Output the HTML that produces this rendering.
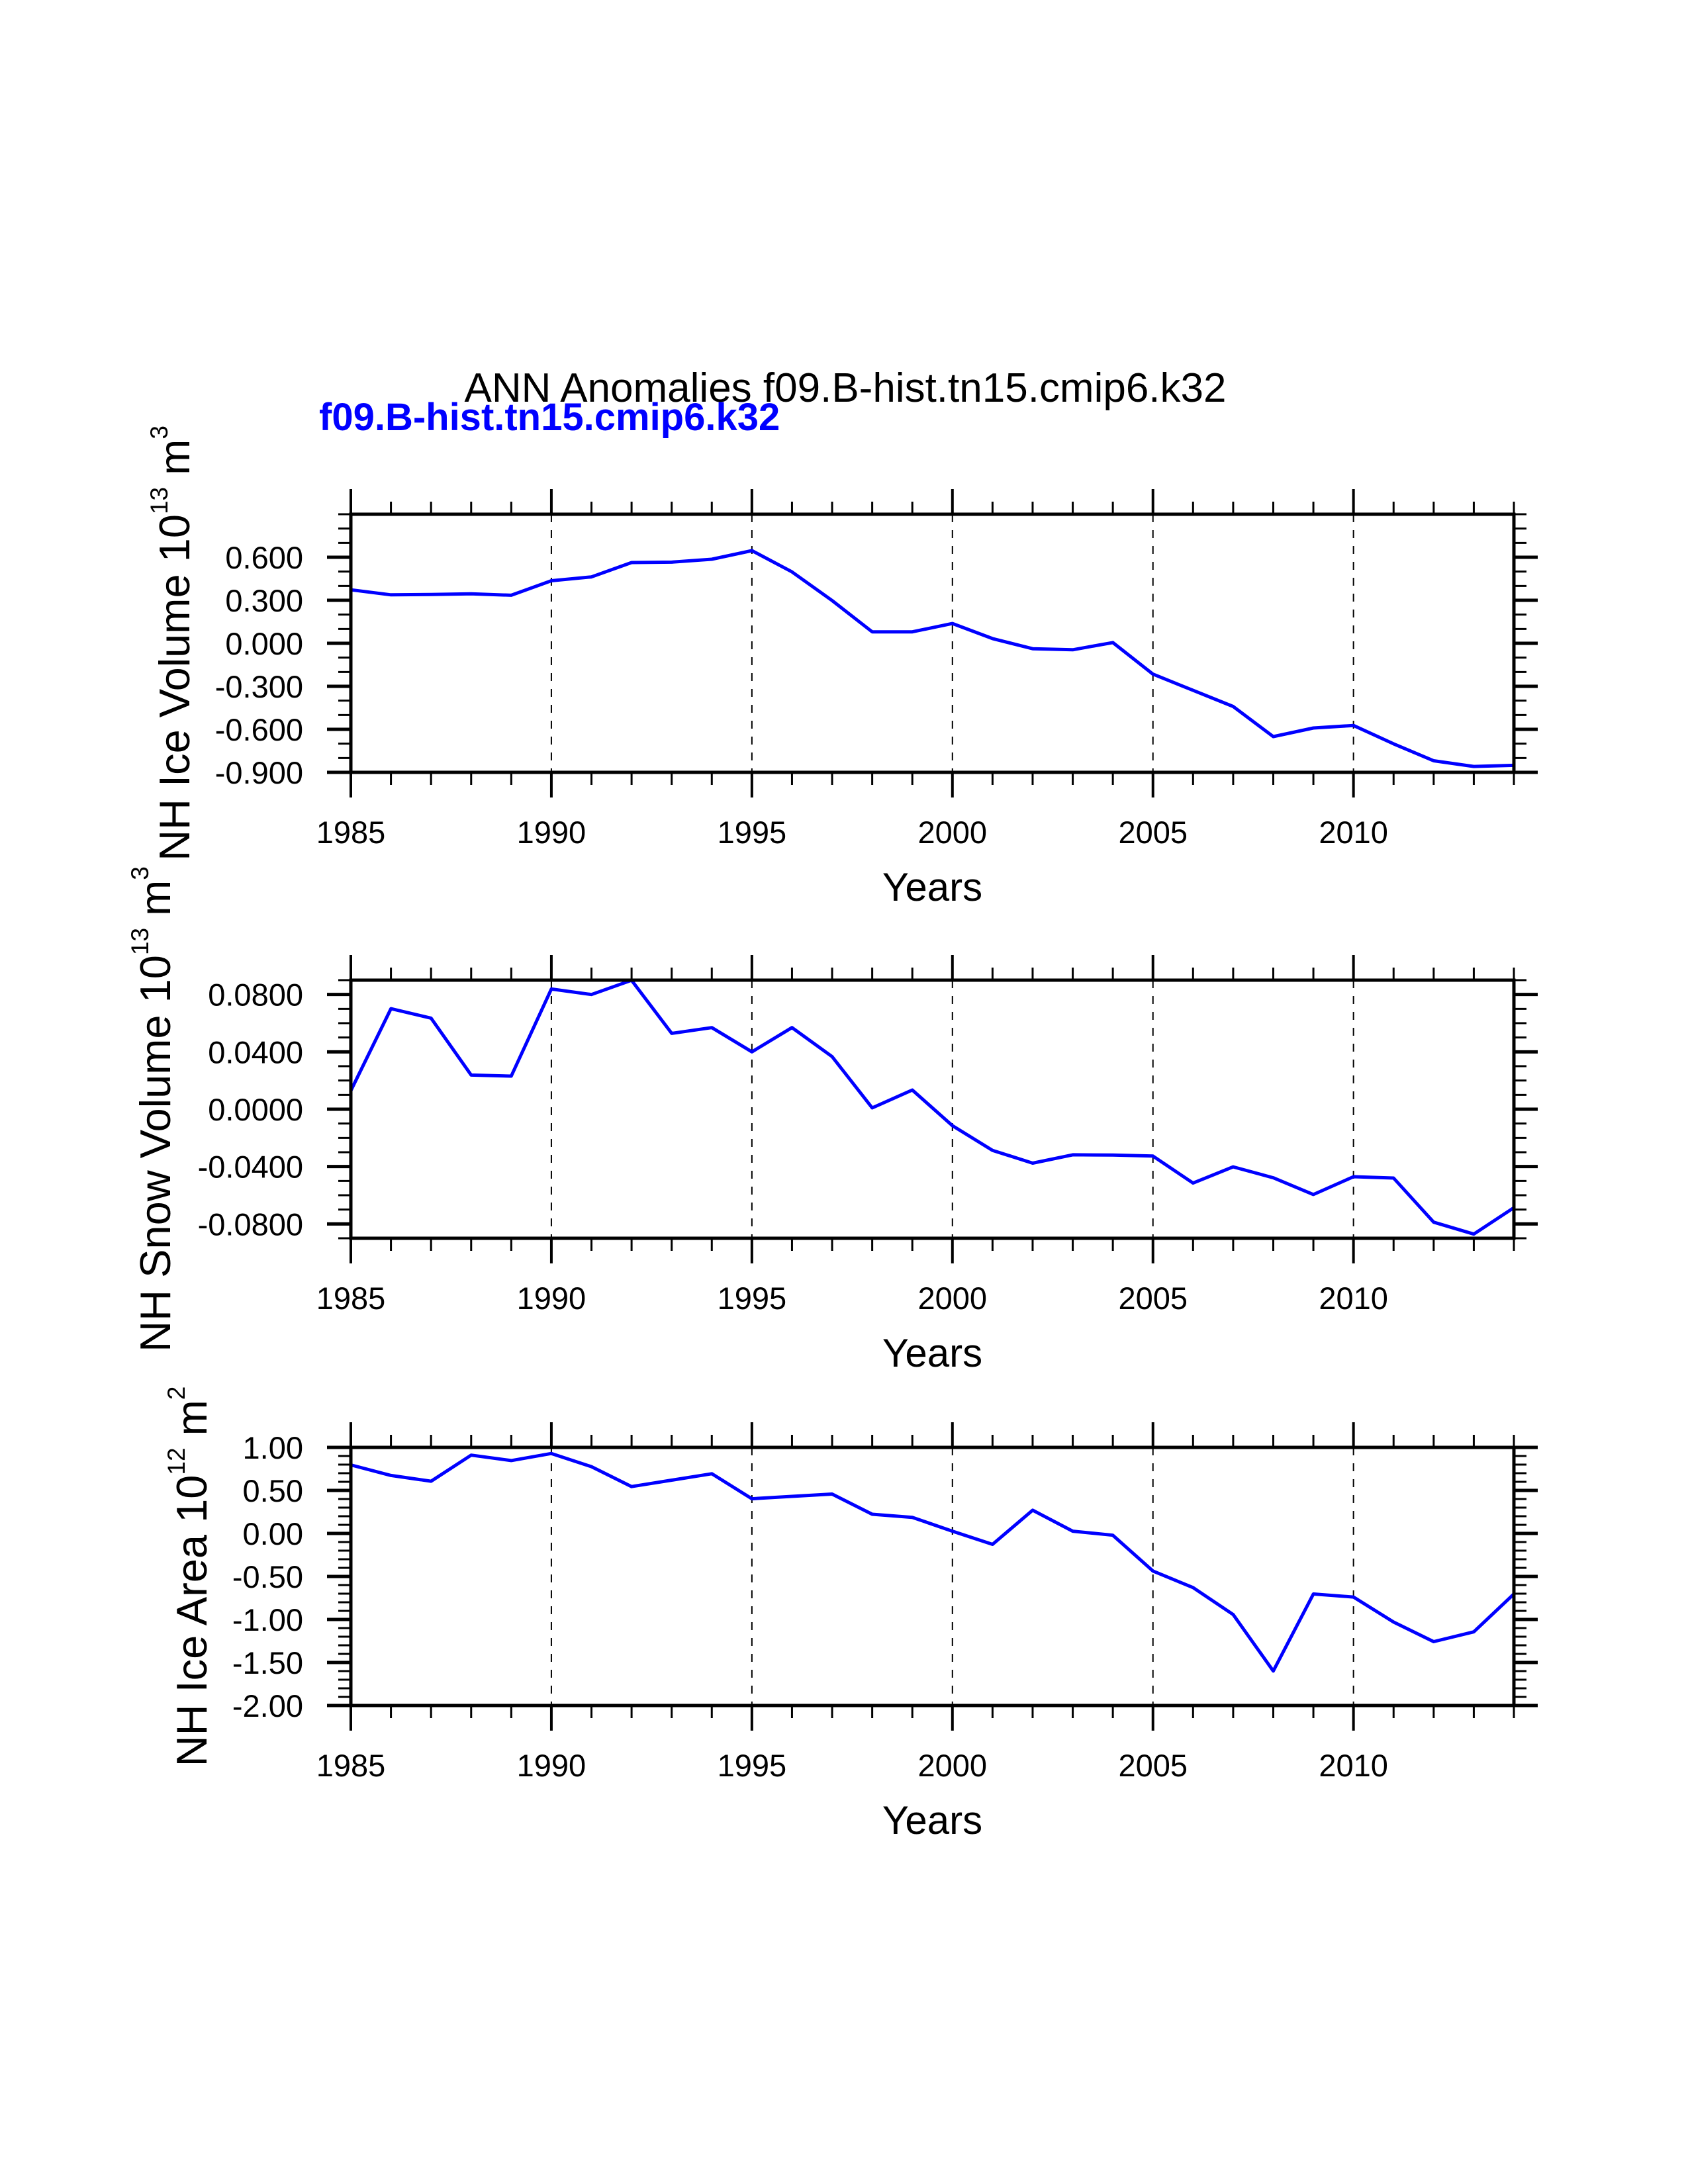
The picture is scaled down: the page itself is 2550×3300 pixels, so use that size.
<!DOCTYPE html>
<html><head><meta charset="utf-8"><title>ANN Anomalies</title>
<style>html,body{margin:0;padding:0;background:#fff}svg{display:block}text{font-family:"Liberation Sans",Arial,sans-serif}</style>
</head><body>
<svg id="fig" xmlns="http://www.w3.org/2000/svg" width="2550" height="3300" viewBox="0 0 2550 3300">
<rect width="2550" height="3300" fill="#fff"/>
<text x="1277" y="607" font-size="62" text-anchor="middle" fill="#000">ANN Anomalies f09.B-hist.tn15.cmip6.k32</text>
<text x="482" y="650" font-size="58" font-weight="bold" fill="#0000ff">f09.B-hist.tn15.cmip6.k32</text>
</svg>
<script>
const years = [1985,1986,1987,1988,1989,1990,1991,1992,1993,1994,1995,1996,1997,1998,1999,2000,2001,2002,2003,2004,2005,2006,2007,2008,2009,2010,2011,2012,2013,2014];
const iceVolume = [0.373,0.338,0.340,0.345,0.335,0.436,0.463,0.563,0.566,0.586,0.646,0.498,0.298,0.080,0.080,0.138,0.033,-0.038,-0.045,0.005,-0.215,-0.328,-0.441,-0.651,-0.591,-0.573,-0.701,-0.819,-0.859,-0.851];
const snowVolume = [0.0129,0.0701,0.0635,0.0238,0.0231,0.0838,0.0800,0.0899,0.0529,0.0569,0.0400,0.0569,0.0367,0.0009,0.0134,-0.0115,-0.0287,-0.0376,-0.0318,-0.0320,-0.0327,-0.0515,-0.0402,-0.0478,-0.0595,-0.0471,-0.0480,-0.0788,-0.0871,-0.0687];
const iceArea = [0.796,0.674,0.607,0.910,0.847,0.929,0.776,0.545,0.619,0.694,0.403,0.431,0.458,0.223,0.187,0.026,-0.127,0.270,0.026,-0.021,-0.437,-0.629,-0.943,-1.599,-0.704,-0.739,-1.030,-1.258,-1.144,-0.704];
const xTickYears = [1985,1990,1995,2000,2005,2010];
const iceVolTicks = [-0.9,-0.6,-0.3,0,0.3,0.6];
const iceVolTickLabels = ["-0.900","-0.600","-0.300","0.000","0.300","0.600"];
const snowTicks = [-0.08,-0.04,0,0.04,0.08];
const snowTickLabels = ["-0.0800","-0.0400","0.0000","0.0400","0.0800"];
const areaTicks = [-2,-1.5,-1,-0.5,0,0.5,1];
const areaTickLabels = ["-2.00","-1.50","-1.00","-0.50","0.00","0.50","1.00"];

const NS="http://www.w3.org/2000/svg";
const svg=document.getElementById('fig');
function mk(tag,attrs,parent){const e=document.createElementNS(NS,tag);for(const k in attrs)e.setAttribute(k,attrs[k]);(parent||svg).appendChild(e);return e;}

const X0=530,X1=2287,XMIN=1985,XMAX=2014;
function xs(v){return X0+(v-XMIN)/(XMAX-XMIN)*(X1-X0);}

function panel(cfg){
  const g=mk('g',{});
  
  
  const T=cfg.top,B=cfg.top+390;
  const ys=v=>B-(v-cfg.min)/(cfg.max-cfg.min)*(B-T);
  for(const yr of [1990,1995,2000,2005,2010]){
    const l=mk('line',{x1:xs(yr),x2:xs(yr),y1:T,y2:B,stroke:'#000','stroke-width':2,'stroke-dasharray':'12,12'},g);
    
    
  }
  for(let yr=XMIN;yr<=XMAX;yr++){
    const major=(yr-XMIN)%5===0;const len=major?38:19;const w=major?4:3;
    mk('line',{x1:xs(yr),x2:xs(yr),y1:T-len,y2:T,stroke:'#000','stroke-width':w},g);
    mk('line',{x1:xs(yr),x2:xs(yr),y1:B,y2:B+len,stroke:'#000','stroke-width':w},g);
  }
  const nMin=Math.round((cfg.max-cfg.min)/cfg.minor);
  for(let i=0;i<=nMin;i++){
    const v=cfg.min+i*cfg.minor;const y=ys(v);
    mk('line',{x1:X0-19,x2:X0,y1:y,y2:y,stroke:'#000','stroke-width':3},g);
    mk('line',{x1:X1,x2:X1+19,y1:y,y2:y,stroke:'#000','stroke-width':3},g);
  }
  cfg.ticks.forEach((v,i)=>{
    const y=ys(v);
    mk('line',{x1:X0-36,x2:X0,y1:y,y2:y,stroke:'#000','stroke-width':5},g);
    mk('line',{x1:X1,x2:X1+36,y1:y,y2:y,stroke:'#000','stroke-width':5},g);
    const t=mk('text',{x:458,y:y+17,'font-size':47,'text-anchor':'end',fill:'#000'},g);
    
    
    t.textContent=cfg.labels[i];
  });
  xTickYears.forEach(yr=>{
    const t=mk('text',{x:xs(yr),y:B+107,'font-size':47,'text-anchor':'middle',fill:'#000'},g);
    
    
    t.textContent=String(yr);
  });
  const xt=mk('text',{x:(X0+X1)/2,y:B+194,'font-size':60,'text-anchor':'middle',fill:'#000'},g);
  
  
  xt.textContent='Years';
  const yt=mk('text',{transform:`translate(${cfg.titleX},${(T+B)/2}) rotate(-90)`,'font-size':65,'text-anchor':'middle',fill:'#000'},g);
  
  
  const a=mk('tspan',{},yt);a.textContent=cfg.title+' 10';
  const b=mk('tspan',{dy:-33,'font-size':37},yt);b.textContent=cfg.exp;
  const c=mk('tspan',{dy:33},yt);c.textContent=' m';
  const d=mk('tspan',{dy:-33,'font-size':37},yt);d.textContent=cfg.unitExp;
  const pts=years.map((yr,i)=>xs(yr).toFixed(1)+','+ys(cfg.data[i]).toFixed(1)).join(' ');
  const pl=mk('polyline',{points:pts,fill:'none',stroke:'#0000ff','stroke-width':5,'stroke-linejoin':'round'},g);
  
  
  const fr=mk('rect',{x:X0,y:T,width:X1-X0,height:B-T,fill:'none',stroke:'#000','stroke-width':5},g);
  
  
}
panel({name:'ice-volume-panel',top:777,min:-0.9,max:0.9,minor:0.1,ticks:iceVolTicks,labels:iceVolTickLabels,data:iceVolume,title:'NH Ice Volume',exp:'13',unitExp:'3',titleX:286});
panel({name:'snow-volume-panel',top:1481,min:-0.09,max:0.09,minor:0.01,ticks:snowTicks,labels:snowTickLabels,data:snowVolume,title:'NH Snow Volume',exp:'13',unitExp:'3',titleX:257});
panel({name:'ice-area-panel',top:2187,min:-2,max:1,minor:0.1,ticks:areaTicks,labels:areaTickLabels,data:iceArea,title:'NH Ice Area',exp:'12',unitExp:'2',titleX:312});
</script>
</body></html>
